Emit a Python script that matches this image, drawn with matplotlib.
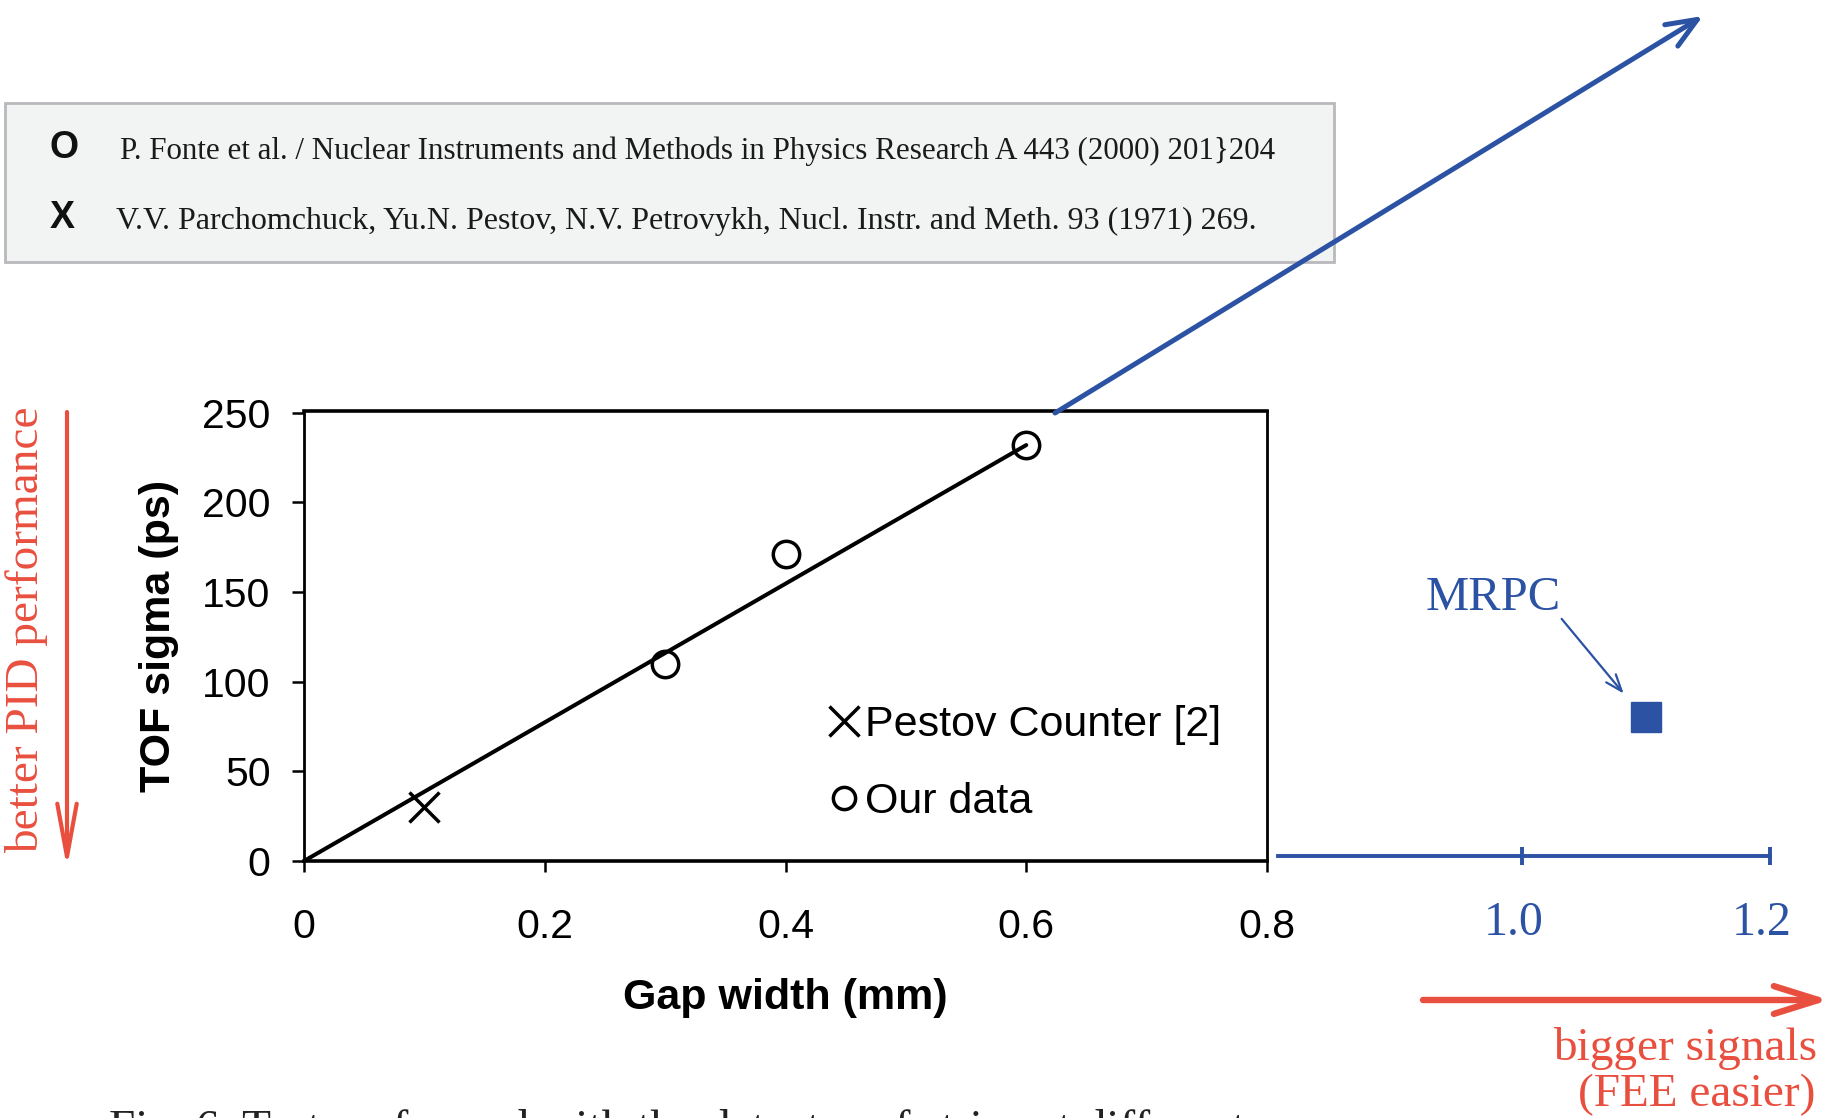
import matplotlib
matplotlib.use("Agg")
import matplotlib.pyplot as plt
from matplotlib.lines import Line2D
from matplotlib.patches import Rectangle, FancyArrowPatch
from matplotlib.transforms import ScaledTranslation

# ---------------- data ----------------
our_gap = [0.3, 0.4, 0.6]
our_sigma = [110, 171, 232]
pestov_gap = [0.1]
pestov_sigma = [30]
fit_gap = [0.0, 0.6]
fit_sigma = [0, 232]
mrpc_gap = [1.1]
mrpc_sigma = [80]

x_ticks = [0, 0.2, 0.4, 0.6, 0.8]
x_ticklabels = ["0", "0.2", "0.4", "0.6", "0.8"]
y_ticks = [0, 50, 100, 150, 200, 250]
y_ticklabels = ["0", "50", "100", "150", "200", "250"]
ext_ticks = [1.0, 1.2]
ext_ticklabels = ["1.0", "1.2"]

legend_labels = ["Pestov Counter [2]", "Our data"]
ref_marks = ["O", "X"]
ref_texts = [
    "P. Fonte et al. / Nuclear Instruments and Methods in Physics Research A 443 (2000) 201}204",
    "V.V. Parchomchuck, Yu.N. Pestov, N.V. Petrovykh, Nucl. Instr. and Meth. 93 (1971) 269.",
]

# ---------------- style ----------------
W, H = 1832, 1118
SANS = "Liberation Sans"
SERIF = "Liberation Serif"
BLUE = "#2b52a3"
RED = "#e94f3f"


def fx(px):
    return px / W


def fy(py):
    return 1 - py / H


fig = plt.figure(figsize=(W / 100, H / 100), dpi=100)
fig.patch.set_facecolor("white")

# ---------------- main axes ----------------
ax = fig.add_axes([fx(304), fy(861), (1267 - 304) / W, (861 - 411) / H])
ax.set_xlim(0, 0.8)
ax.set_ylim(0, 251)
ax.plot(fit_gap, fit_sigma, color="black", lw=2.9, solid_capstyle="round")
ax.plot(our_gap, our_sigma, "o", ms=19, mfc="none", mec="black", mew=2.5)
ax.plot(pestov_gap, pestov_sigma, "x", ms=22, mec="black", mew=2.5)

for s in ax.spines.values():
    s.set_linewidth(2.0)
    s.set_color("black")
ax.spines["top"].set_linewidth(2.6)
ax.spines["bottom"].set_linewidth(2.6)

ax.set_xticks(x_ticks)
ax.set_xticklabels(x_ticklabels)
ax.set_yticks(y_ticks)
ax.set_yticklabels(y_ticklabels)
ax.tick_params(axis="x", direction="out", length=8, width=1.8, pad=26,
               labelsize=29.5)
ax.tick_params(axis="y", direction="out", length=9, width=1.8, pad=15,
               labelsize=29.5)
for lab in ax.get_xticklabels() + ax.get_yticklabels():
    lab.set_fontfamily(SANS)

ax.set_xlabel("Gap width (mm)", fontsize=31, fontweight="bold",
              fontfamily=SANS, labelpad=23)
ax.set_ylabel("TOF sigma (ps)", fontsize=31, fontweight="bold",
              fontfamily=SANS, labelpad=17)

handles = [
    Line2D([], [], ls="none", marker="x", ms=21, mec="black", mew=2.5),
    Line2D([], [], ls="none", marker="o", ms=16, mfc="none", mec="black", mew=2.5),
]
leg = ax.legend(handles, legend_labels, loc="upper left",
                bbox_to_anchor=((812 - 304) / (1267 - 304), (861 - 688) / 450),
                frameon=False, handlelength=0.7, handletextpad=0.12,
                labelspacing=0.85, borderaxespad=0,
                prop={"family": SANS, "size": 31})

# ---------------- extended blue axis ----------------
ax2 = fig.add_axes([fx(1274), fy(861), (1770 - 1274) / W, (861 - 411) / H])
ax2.set_xlim(0.8, 1.2)
ax2.set_ylim(0, 250)
ax2.patch.set_visible(False)
for k in ["top", "left", "right"]:
    ax2.spines[k].set_visible(False)
ax2.spines["bottom"].set_position(("data", 2.8))
ax2.spines["bottom"].set_bounds(0.803, 1.2)
ax2.spines["bottom"].set_color(BLUE)
ax2.spines["bottom"].set_linewidth(2.8)
ax2.set_yticks([])
ax2.set_xticks(ext_ticks)
ax2.set_xticklabels(ext_ticklabels)
ax2.tick_params(axis="x", direction="inout", length=13, width=2.8,
                color=BLUE, labelcolor=BLUE, labelsize=34.5, pad=26)
shift = ScaledTranslation(-8 / 100, 0, fig.dpi_scale_trans)
for lab in ax2.get_xticklabels():
    lab.set_fontfamily(SERIF)
    lab.set_transform(lab.get_transform() + shift)

ax2.plot(mrpc_gap, mrpc_sigma, "s", ms=21, color=BLUE, clip_on=False)
ax2.text(0.977, 146, "MRPC", color=BLUE, fontsize=35, fontfamily=SERIF,
         ha="center", va="center")
ax2.annotate("", xy=(1.082, 93), xytext=(1.032, 134.5),
             arrowprops=dict(arrowstyle="->,head_length=1.2,head_width=0.45",
                             color=BLUE, lw=1.6, mutation_scale=10,
                             shrinkA=0, shrinkB=0))

# ---------------- reference box ----------------
fig.add_artist(Rectangle((fx(5), fy(262)), (1334 - 5) / W, (262 - 103) / H,
                         transform=fig.transFigure, facecolor="#f2f3f3",
                         edgecolor="#b9b9bd", lw=2, zorder=0))
ref_y = [151, 221]
ref_mark_x = [64, 62]
ref_text_x = [120, 116]
ref_sizes = [22.3, 23.0]
for mk, tx, yy, mx, tx0, fs in zip(ref_marks, ref_texts, ref_y, ref_mark_x,
                                   ref_text_x, ref_sizes):
    fig.text(fx(mx), fy(yy - 3), mk, fontsize=27, fontweight="bold",
             fontfamily=SANS, ha="center", va="center", color="#111111")
    fig.text(fx(tx0), fy(yy), tx, fontsize=fs, fontfamily=SERIF,
             ha="left", va="center", color="#1a1a1a")

# ---------------- arrows / annotations ----------------
fig.add_artist(FancyArrowPatch((fx(1055), fy(413)), (fx(1703), fy(16)),
                               transform=fig.transFigure,
                               arrowstyle="->,head_length=2.2,head_width=0.9",
                               mutation_scale=10, color=BLUE, lw=3.6,
                               shrinkA=0, shrinkB=0))
fig.add_artist(FancyArrowPatch((fx(67), fy(412)), (fx(67), fy(868)),
                               transform=fig.transFigure,
                               arrowstyle="->,head_length=3.8,head_width=0.7",
                               mutation_scale=10, color=RED, lw=3,
                               shrinkA=0, shrinkB=0))
fig.add_artist(FancyArrowPatch((fx(1423), fy(1000)), (fx(1829), fy(1000)),
                               transform=fig.transFigure,
                               arrowstyle="->,head_length=3.2,head_width=1.0",
                               mutation_scale=10, color=RED, lw=4.6,
                               shrinkA=0, shrinkB=0, capstyle="round",
                               joinstyle="round"))

fig.text(fx(27), fy(630), "better PID performance", rotation=90,
         fontsize=34, fontfamily=SERIF, color=RED, ha="center", va="center")
fig.text(fx(1817), fy(1048), "bigger signals", fontsize=34,
         fontfamily=SERIF, color=RED, ha="right", va="center")
fig.text(fx(1815), fy(1095), "(FEE easier)", fontsize=34,
         fontfamily=SERIF, color=RED, ha="right", va="center")

# caption (cut off at the bottom edge in the original)
fig.text(fx(109), fy(1142), "Fig. 6. Test performed with the detector of strips at different",
         fontsize=34, fontfamily=SERIF, color="#222222", ha="left",
         va="baseline")

fig.savefig("out.png", dpi=100)
